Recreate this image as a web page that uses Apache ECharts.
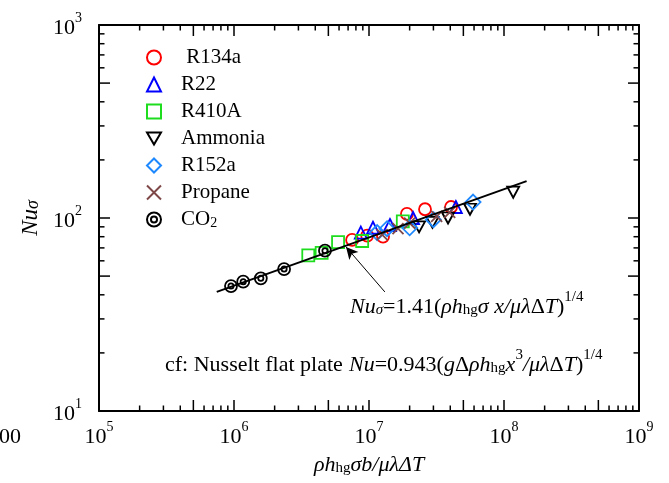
<!DOCTYPE html>
<html>
<head>
<meta charset="utf-8">
<script src="https://cdn.jsdelivr.net/npm/echarts@6/dist/echarts.min.js"></script>
<style>
  html, body { margin: 0; padding: 0; background: #fff; }
  #chart { width: 669px; height: 483px; }
</style>
</head>
<body>
<div id="chart"></div>
<script>
// Condensation data: Nusselt number vs. dimensionless group, per working fluid
const seriesNames = [' R134a', 'R22', 'R410A', 'Ammonia', 'R152a', 'Propane', 'CO2'];

const r134aX = [7.5e6, 9.7e6, 1.27e7, 1.91e7, 2.6e7, 4.05e7];
const r134aNu = [77, 81, 80, 105, 111, 114];

const r22X = [8.7e6, 1.07e7, 1.43e7, 2.12e7, 4.4e7];
const r22Nu = [84, 89, 92, 100, 114];

const r410aX = [3.55e6, 4.46e6, 5.9e6, 8.9e6, 1.78e7];
const r410aNu = [64, 66, 75, 76, 96];

const ammoniaX = [2.35e7, 2.95e7, 3.85e7, 5.6e7, 1.17e8];
const ammoniaNu = [90, 95, 100, 111, 136];

const r152aX = [1.15e7, 1.36e7, 2.0e7, 3.0e7, 5.9e7];
const r152aNu = [84, 88, 89, 98, 121];

const propaneX = [1.25e7, 1.64e7, 2.0e7, 3.17e7, 3.96e7];
const propaneNu = [82, 88, 94, 102, 107];

const co2X = [9.5e5, 1.17e6, 1.58e6, 2.35e6, 4.72e6];
const co2Nu = [44.4, 46.8, 48.7, 54.4, 67.7];

// Correlation Nu_sigma = 1.41 (rho h_hg sigma x / mu lambda dT)^(1/4)
const fitCoef = 1.41;
const fitExp = 0.25;
const fitRangeX = [7.45e5, 1.47e8];

// Axis ranges (decades) and minor-tick multipliers
const xRange = [1e5, 1e9];
const yRange = [1e1, 1e3];
const minorMultipliers = [2, 3, 4, 5, 6, 7, 8, 9];

const FONT = '"Liberation Serif", "Times New Roman", serif';

const zip = (xs, ys) => xs.map((x, i) => [x, ys[i]]);
const fitLine = fitRangeX.map(x => [x, fitCoef * Math.pow(x, fitExp)]);

// minor tick positions along each axis
const minorTicks = [];
for (let e = Math.log10(xRange[0]); e < Math.log10(xRange[1]); e++) {
  minorMultipliers.forEach(m => minorTicks.push([m * Math.pow(10, e), yRange[0], m === 5 ? 11 : 5.5, 0]));
}
for (let e = Math.log10(yRange[0]); e < Math.log10(yRange[1]); e++) {
  minorMultipliers.forEach(m => minorTicks.push([xRange[0], m * Math.pow(10, e), m === 5 ? 11 : 5.5, 1]));
}

const powLabel = v => '{b|10}{e|' + Math.round(Math.log10(v)) + '}';
const powRich = {
  b: { fontFamily: FONT, fontSize: 22, lineHeight: 28, verticalAlign: 'bottom', color: '#000' },
  e: { fontFamily: FONT, fontSize: 14, lineHeight: 14, verticalAlign: 'top', color: '#000' }
};

const downTriangle = 'path://M0,0 L12,0 L6,10.4 Z';
const crossMark = 'path://M0,0 L10,10 M10,0 L0,10';
const ringMark = 'path://M12,6 A6,6 0 1 1 0,6 A6,6 0 1 1 12,6 Z M8.6,6 A2.6,2.6 0 1 1 3.4,6 A2.6,2.6 0 1 1 8.6,6 Z';

function scatter(name, data, symbol, size, color) {
  return {
    type: 'scatter', name, data, symbol, symbolSize: size, color,
    itemStyle: { color: 'rgba(0,0,0,0)', borderColor: color, borderWidth: 1.8, opacity: 1 },
    emphasis: { disabled: true },
    z: 3
  };
}

const axisCommon = {
  type: 'log', logBase: 10,
  axisLine: { show: true, onZero: false, lineStyle: { color: '#000', width: 2 } },
  axisTick: { show: true, inside: true, length: 11, lineStyle: { color: '#000', width: 1.5 } },
  splitLine: { show: false },
  minorTick: { show: false }
};

// rich styles shared by the formula annotations
const formulaRich = {
  i: { fontFamily: FONT, fontStyle: 'italic', fontSize: 22, lineHeight: 28, verticalAlign: 'bottom', fill: '#000' },
  r: { fontFamily: FONT, fontSize: 22, lineHeight: 28, verticalAlign: 'bottom', fill: '#000' },
  si: { fontFamily: FONT, fontStyle: 'italic', fontSize: 15, lineHeight: 6, verticalAlign: 'bottom', fill: '#000' },
  s: { fontFamily: FONT, fontSize: 15, lineHeight: 6, verticalAlign: 'bottom', fill: '#000' },
  e: { fontFamily: FONT, fontSize: 15, lineHeight: 15, verticalAlign: 'top', fill: '#000' }
};

const chart = echarts.init(document.getElementById('chart'), null, { renderer: 'canvas' });

chart.setOption({
  animation: false,
  backgroundColor: '#fff',
  grid: { left: 99, right: 30, top: 25, bottom: 72, containLabel: false },
  xAxis: [
    Object.assign({}, axisCommon, {
      min: xRange[0], max: xRange[1], interval: 1, position: 'bottom',
      axisLabel: { show: true, margin: 9, formatter: powLabel, rich: powRich, verticalAlign: 'top' }
    }),
    Object.assign({}, axisCommon, {
      min: xRange[0], max: xRange[1], interval: 1, position: 'top',
      axisLabel: { show: false }
    })
  ],
  yAxis: [
    Object.assign({}, axisCommon, {
      min: yRange[0], max: yRange[1], interval: 1, position: 'left',
      axisLabel: { show: true, margin: 17, formatter: powLabel, rich: powRich }
    }),
    Object.assign({}, axisCommon, {
      min: yRange[0], max: yRange[1], interval: 1, position: 'right',
      axisLabel: { show: false }
    })
  ],
  legend: {
    orient: 'vertical', left: 141, top: 42,
    itemWidth: 14, itemHeight: 14, itemGap: 6,
    data: seriesNames,
    selectedMode: false,
    formatter: name => name === 'CO2' ? '{p| }{t|CO}{s|2}' : '{p| }{t|' + name + '}',
    textStyle: {
      rich: {
        p: { width: 15, fontSize: 21, fontFamily: FONT },
        t: { fontFamily: FONT, fontSize: 21, lineHeight: 21, color: '#000' },
        s: { fontFamily: FONT, fontSize: 14, lineHeight: 8, verticalAlign: 'bottom', color: '#000' }
      }
    }
  },
  series: [
    {
      type: 'line', data: fitLine, symbol: 'none', silent: true,
      lineStyle: { color: '#000', width: 2 }, z: 4,
      markLine: {
        silent: true, symbol: ['none', 'arrow'], symbolSize: [9, 12],
        lineStyle: { color: '#000', width: 1, type: 'solid' },
        label: { show: false },
        data: [[{ coord: [1.31e7, 41.4] }, { coord: [6.76e6, 70.8] }]]
      }
    },
    scatter(seriesNames[0], zip(r134aX, r134aNu), 'circle', 12, '#FF0000'),
    scatter(seriesNames[1], zip(r22X, r22Nu), 'triangle', 12, '#0000FF'),
    scatter(seriesNames[2], zip(r410aX, r410aNu), 'rect', 12, '#1EDC1E'),
    scatter(seriesNames[3], zip(ammoniaX, ammoniaNu), downTriangle, [12, 11], '#000000'),
    scatter(seriesNames[4], zip(r152aX, r152aNu), 'diamond', 15, '#1E88FF'),
    scatter(seriesNames[5], zip(propaneX, propaneNu), crossMark, 11, '#7F4848'),
    scatter(seriesNames[6], zip(co2X, co2Nu), ringMark, 12, '#000000'),
    {
      // minor ticks on all four sides, drawn inward
      type: 'custom', data: minorTicks, silent: true, clip: false, z: 5,
      renderItem: (params, api) => {
        const len = api.value(2);
        const horiz = api.value(3) === 0;
        const style = { stroke: '#000', lineWidth: 1.5 };
        if (horiz) {
          const v = api.value(0);
          const b = api.coord([v, yRange[0]]);
          const t = api.coord([v, yRange[1]]);
          return { type: 'group', children: [
            { type: 'line', shape: { x1: b[0], y1: b[1], x2: b[0], y2: b[1] - len }, style },
            { type: 'line', shape: { x1: t[0], y1: t[1], x2: t[0], y2: t[1] + len }, style }
          ] };
        }
        const v = api.value(1);
        const l = api.coord([xRange[0], v]);
        const r = api.coord([xRange[1], v]);
        return { type: 'group', children: [
          { type: 'line', shape: { x1: l[0], y1: l[1], x2: l[0] + len, y2: l[1] }, style },
          { type: 'line', shape: { x1: r[0], y1: r[1], x2: r[0] - len, y2: r[1] }, style }
        ] };
      }
    }
  ],
  graphic: [
    {
      type: 'text', x: 31, y: 218, rotation: Math.PI / 2,
      style: {
        text: '{i|Nu}{s|σ}', align: 'center', verticalAlign: 'middle',
        rich: {
          i: { fontFamily: FONT, fontStyle: 'italic', fontSize: 23, lineHeight: 23, fill: '#000' },
          s: { fontFamily: FONT, fontStyle: 'italic', fontSize: 18, lineHeight: 10, verticalAlign: 'bottom', fill: '#000' }
        }
      }
    },
    {
      type: 'text', x: 369, y: 465,
      style: {
        text: '{i|ρh}{s|hg}{i|σb/μλΔT}', align: 'center', verticalAlign: 'middle',
        rich: {
          i: { fontFamily: FONT, fontStyle: 'italic', fontSize: 22, lineHeight: 22, fill: '#000' },
          s: { fontFamily: FONT, fontSize: 15, lineHeight: 8, verticalAlign: 'bottom', fill: '#000' }
        }
      }
    },
    {
      type: 'text', x: 21, y: 437,
      style: { text: '100', font: '22px ' + FONT, align: 'right', verticalAlign: 'middle', fill: '#000' }
    },
    {
      type: 'text', x: 350, y: 304,
      style: {
        text: '{i|Nu}{si|σ}{r|=1.41(}{i|ρh}{s|hg}{i|σ x/μλ}{r|Δ}{i|T}{r|)}{e|1/4}',
        align: 'left', verticalAlign: 'middle', rich: formulaRich
      }
    },
    {
      type: 'text', x: 165, y: 362,
      style: {
        text: '{r|cf: Nusselt flat plate}',
        align: 'left', verticalAlign: 'middle', rich: formulaRich
      }
    },
    {
      type: 'text', x: 349, y: 362,
      style: {
        text: '{i|Nu}{r|=0.943(}{i|g}{r|Δ}{i|ρh}{s|hg}{i|x}{e|3}{i|/μλ}{r|Δ}{i|T}{r|)}{e|1/4}',
        align: 'left', verticalAlign: 'middle', rich: formulaRich
      }
    }
  ]
});
</script>
</body>
</html>
